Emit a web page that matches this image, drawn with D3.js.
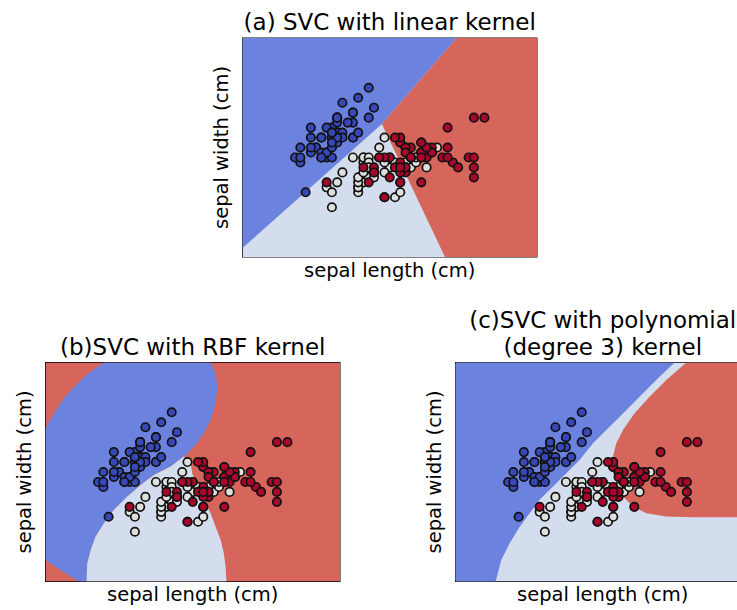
<!DOCTYPE html>
<meta charset="utf-8">
<body style="margin:0;background:#fff">
<script src="https://d3js.org/d3.v7.min.js"></script>
<div id="my_dataviz"></div>
<script>
    // iris sepal length / sepal width, in dataset order
    var setosa = [[5.1,3.5],[4.9,3.0],[4.7,3.2],[4.6,3.1],[5.0,3.6],[5.4,3.9],[4.6,3.4],[5.0,3.4],[4.4,2.9],[4.9,3.1],
      [5.4,3.7],[4.8,3.4],[4.8,3.0],[4.3,3.0],[5.8,4.0],[5.7,4.4],[5.4,3.9],[5.1,3.5],[5.7,3.8],[5.1,3.8],
      [5.4,3.4],[5.1,3.7],[4.6,3.6],[5.1,3.3],[4.8,3.4],[5.0,3.0],[5.0,3.4],[5.2,3.5],[5.2,3.4],[4.7,3.2],
      [4.8,3.1],[5.4,3.4],[5.2,4.1],[5.5,4.2],[4.9,3.1],[5.0,3.2],[5.5,3.5],[4.9,3.6],[4.4,3.0],[5.1,3.4],
      [5.0,3.5],[4.5,2.3],[4.4,3.2],[5.0,3.5],[5.1,3.8],[4.8,3.0],[5.1,3.8],[4.6,3.2],[5.3,3.7],[5.0,3.3]];
    var versicolor = [[7.0,3.2],[6.4,3.2],[6.9,3.1],[5.5,2.3],[6.5,2.8],[5.7,2.8],[6.3,3.3],[4.9,2.4],[6.6,2.9],[5.2,2.7],
      [5.0,2.0],[5.9,3.0],[6.0,2.2],[6.1,2.9],[5.6,2.9],[6.7,3.1],[5.6,3.0],[5.8,2.7],[6.2,2.2],[5.6,2.5],
      [5.9,3.2],[6.1,2.8],[6.3,2.5],[6.1,2.8],[6.4,2.9],[6.6,3.0],[6.8,2.8],[6.7,3.0],[6.0,2.9],[5.7,2.6],
      [5.5,2.4],[5.5,2.4],[5.8,2.7],[6.0,2.7],[5.4,3.0],[6.0,3.4],[6.7,3.1],[6.3,2.3],[5.6,3.0],[5.5,2.5],
      [5.5,2.6],[6.1,3.0],[5.8,2.6],[5.0,2.3],[5.6,2.7],[5.7,3.0],[5.7,2.9],[6.2,2.9],[5.1,2.5],[5.7,2.8]];
    var virginica = [[6.3,3.3],[5.8,2.7],[7.1,3.0],[6.3,2.9],[6.5,3.0],[7.6,3.0],[4.9,2.5],[7.3,2.9],[6.7,2.5],[7.2,3.6],
      [6.5,3.2],[6.4,2.7],[6.8,3.0],[5.7,2.5],[5.8,2.8],[6.4,3.2],[6.5,3.0],[7.7,3.8],[7.7,2.6],[6.0,2.2],
      [6.9,3.2],[5.6,2.8],[7.7,2.8],[6.3,2.7],[6.7,3.3],[7.2,3.2],[6.2,2.8],[6.1,3.0],[6.4,2.8],[7.2,3.0],
      [7.4,2.8],[7.9,3.8],[6.4,2.8],[6.3,2.8],[6.1,2.6],[7.7,3.0],[6.3,3.4],[6.4,3.1],[6.0,3.0],[6.9,3.1],
      [6.7,3.1],[6.9,3.1],[5.8,2.7],[6.8,3.2],[6.7,3.3],[6.7,3.0],[6.3,2.5],[6.5,3.0],[6.2,3.4],[5.9,3.0]];

    // decision regions, outlines (sepal length, sepal width)
    var linearBlue = [[3.3,5.4],[7.37,5.4],[5.95,3.67],[3.3,1.18]];
    var linearRed = [[7.37,5.4],[8.9,5.4],[8.9,1.0],[7.15,1.0],[5.95,3.67]];

    var rbfBlue = [[3.3,4.08],[3.46,4.38],[3.65,4.68],[3.905,4.98],[4.16,5.22],[4.41,5.4],[6.44,5.4],
      [6.535,5.18],[6.57,4.91],[6.535,4.58],[6.44,4.25],[6.31,3.98],[6.155,3.74],[5.93,3.51],
      [5.68,3.31],[5.36,3.14],[5.11,2.94],[4.856,2.71],[4.6,2.44],[4.41,2.17],[4.25,1.9],[4.16,1.635],
      [4.095,1.37],[4.08,1.0],[3.94,1.0],[3.78,1.1],[3.525,1.27],[3.3,1.43]];
    var rbfLight = [[5.93,3.51],[6.06,3.375],[6.09,3.175],[6.19,2.91],[6.31,2.64],[6.44,2.37],[6.535,2.1],
      [6.63,1.84],[6.69,1.57],[6.725,1.3],[6.74,1.0],[4.08,1.0],[4.095,1.37],[4.16,1.635],[4.25,1.9],
      [4.41,2.17],[4.6,2.44],[4.856,2.71],[5.11,2.94],[5.36,3.14],[5.68,3.31]];

    var polyBlue = [[3.3,5.4],[7.467,5.4],[7.18,5.115],[6.865,4.78],[6.55,4.446],[6.23,4.11],[5.914,3.777],
      [5.66,3.44],[5.407,3.174],[5.154,2.907],[4.9,2.64],[4.71,2.37],[4.52,2.1],[4.33,1.77],[4.17,1.434],
      [4.064,1.0],[3.3,1.0]];
    var polyRed = [[7.69,5.4],[8.9,5.4],[8.9,2.29],[7.815,2.29],[7.31,2.304],[6.93,2.37],[6.675,2.505],
      [6.484,2.706],[6.358,2.974],[6.294,3.24],[6.294,3.51],[6.358,3.777],[6.484,4.045],[6.706,4.38],
      [6.99,4.71],[7.31,5.05]];

    var xDomain = [3.3, 8.9], yDomain = [1.0, 5.4];
    var xLabel = "sepal length (cm)", yLabel = "sepal width (cm)";

    var regionColor = ["#6c82df", "#d4ddee", "#d6655b"];
    var pointColor = ["#3748b4", "#dde0dc", "#a8062a"];

    var panels = [
      {x0: 242.5, y0: 38, title: ["(a) SVC with linear kernel"], base: 1, regions: [[0, linearBlue], [2, linearRed]]},
      {x0: 45.5, y0: 362.5, title: ["(b)SVC with RBF kernel"], base: 2, regions: [[0, rbfBlue], [1, rbfLight]]},
      {x0: 455.5, y0: 362.5, title: ["(c)SVC with polynomial", "(degree 3) kernel"], base: 1, regions: [[0, polyBlue], [2, polyRed]]}
    ];

    var width = 737, height = 610, pw = 294.5, ph = 219;
    var font = "DejaVu Sans, Verdana, sans-serif";

    var svg = d3.select("#my_dataviz")
      .append("svg")
        .attr("width", width)
        .attr("height", height)
        .style("display", "block");

    var x = d3.scaleLinear().domain(xDomain).range([0, pw]);
    var y = d3.scaleLinear().domain(yDomain).range([ph, 0]);
    var line = d3.line().x(function(d) { return x(d[0]); }).y(function(d) { return y(d[1]); });

    var points = [];
    [setosa, versicolor, virginica].forEach(function(arr, k) {
      arr.forEach(function(d) { points.push({sl: d[0], sw: d[1], c: k}); });
    });

    panels.forEach(function(p, i) {
      var g = svg.append("g").attr("transform", "translate(" + p.x0 + "," + p.y0 + ")");

      svg.append("clipPath").attr("id", "clip" + i)
        .append("rect").attr("x", p.x0).attr("y", p.y0).attr("width", pw).attr("height", ph);
      var area = svg.append("g").attr("clip-path", "url(#clip" + i + ")")
        .append("g").attr("transform", "translate(" + p.x0 + "," + p.y0 + ")");

      // the class that fills what is left
      area.append("rect")
        .attr("x", x(xDomain[0])).attr("y", y(yDomain[1]))
        .attr("width", x(xDomain[1]) - x(xDomain[0]))
        .attr("height", y(yDomain[0]) - y(yDomain[1]))
        .attr("fill", regionColor[p.base]);

      area.selectAll("path.region")
        .data(p.regions)
        .enter().append("path")
          .attr("class", "region")
          .attr("d", function(r) { return line(r[1]) + "Z"; })
          .attr("fill", function(r) { return regionColor[r[0]]; });

      area.selectAll("circle")
        .data(points)
        .enter().append("circle")
          .attr("cx", function(d) { return x(d.sl); })
          .attr("cy", function(d) { return y(d.sw); })
          .attr("r", 4.2)
          .attr("fill", function(d) { return pointColor[d.c]; })
          .attr("stroke", "#111")
          .attr("stroke-width", 1.7);

      // frame
      g.append("rect")
        .attr("width", pw).attr("height", ph)
        .attr("fill", "none").attr("stroke", "#000").attr("stroke-width", 1);

      // title
      var n = p.title.length;
      p.title.forEach(function(t, j) {
        g.append("text")
          .attr("x", pw / 2)
          .attr("y", -8 - (n - 1 - j) * 26.5)
          .attr("text-anchor", "middle")
          .style("font-family", font)
          .style("font-size", "23px")
          .attr("fill", "#000")
          .text(t);
      });

      g.append("text")
        .attr("x", pw / 2)
        .attr("y", ph + 19.5)
        .attr("text-anchor", "middle")
        .style("font-family", font)
        .style("font-size", "19.5px")
        .text(xLabel);

      g.append("text")
        .attr("transform", "rotate(-90)")
        .attr("x", -ph / 2)
        .attr("y", -15)
        .attr("text-anchor", "middle")
        .style("font-family", font)
        .style("font-size", "19.5px")
        .text(yLabel);
    });
</script>
</body>
